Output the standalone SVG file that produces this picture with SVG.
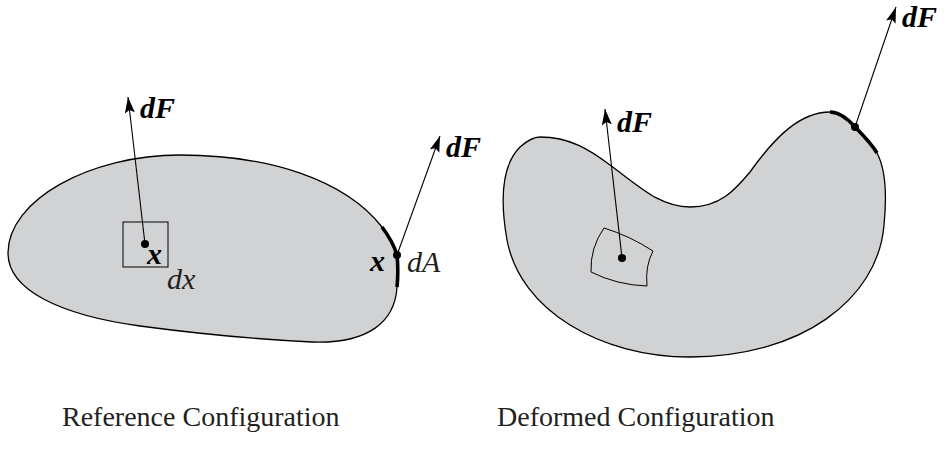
<svg xmlns="http://www.w3.org/2000/svg" width="946" height="463" viewBox="0 0 946 463">
<style>
.body{fill:#d1d2d4;stroke:#000;stroke-width:1.3;stroke-linejoin:round}
.thick{fill:none;stroke:#000;stroke-width:3.6;stroke-linecap:butt}
.vec{fill:none;stroke:#000;stroke-width:1.1}
.el{fill:none;stroke:#000;stroke-width:1}
.bi{font-family:"Liberation Serif","DejaVu Serif",serif;font-weight:bold;font-style:italic;font-size:30px;fill:#000}
.it{font-family:"Liberation Serif","DejaVu Serif",serif;font-style:italic;font-size:30px;fill:#231f20}
.cap{font-family:"Liberation Serif","Times New Roman",serif;font-size:28px;fill:#231f20}
</style>
<defs>
<marker id="ah" viewBox="-17 -6 18 12" refX="0" refY="0" markerWidth="18" markerHeight="12" markerUnits="userSpaceOnUse" orient="auto">
<path d="M0,0 L-16,-5 L-13,0 L-16,5 Z" fill="#000"/>
</marker>
</defs>
<g id="reference-body">
<path class="body" d="M 382,227 C 388,235 394,245 397,255 C 398,265 398,277 397,287 C 395,322 368,344 312,342 C 250,339 200,334 140,326 C 60,315 8,290 8,253 C 8,200 90,155 180,155 C 270,155 345,180 382,227 Z"/>
<path class="thick" d="M 382,227 C 388,235 394,245 397,255 C 398,265 398,277 397,287"/>
</g>
<g id="reference-element">
<rect class="el" x="123" y="222" width="45" height="45"/>
<circle cx="145" cy="244" r="4"/>
<text class="bi" x="147" y="264">x</text>
<text class="it" x="167" y="289">dx</text>
</g>
<g id="reference-surface">
<circle cx="397" cy="255" r="4"/>
<text class="bi" x="370" y="271">x</text>
<text class="it" x="407" y="272">dA</text>
</g>
<g id="deformed-body">
<path class="body" d="M 540,137 C 570,137 590,150 610,165 C 640,187 660,207 690,207 C 720,207 735,190 750,172 C 775,137 800,112 830,112 C 840,112 848,119 855,127 C 863,135 871,143 877,153 C 886,170 887,195 884,225 C 878,300 800,357 690,357 C 600,357 520,310 507,240 C 500,200 502,165 520,147 C 528,140 534,137 540,137 Z"/>
<path class="thick" d="M 830,112 C 840,112 848,119 855,127 C 863,135 871,143 877,153"/>
<circle cx="855" cy="127" r="4"/>
</g>
<g id="deformed-element">
<path class="el" d="M 604,228 Q 630,236 653,251 Q 645,266 647,286 Q 617,285 591,272 Q 590,248 604,228 Z"/>
<circle cx="622" cy="258" r="4"/>
</g>
<g id="connectors">
<line class="vec" x1="145" y1="244" x2="128" y2="97" marker-end="url(#ah)"/>
<line class="vec" x1="397" y1="255" x2="440" y2="136" marker-end="url(#ah)"/>
<line class="vec" x1="622" y1="258" x2="605" y2="109" marker-end="url(#ah)"/>
<line class="vec" x1="855" y1="127" x2="896" y2="7" marker-end="url(#ah)"/>
</g>
<g id="labels">
<text class="bi" x="140" y="118">dF</text>
<text class="bi" x="446" y="157">dF</text>
<text class="bi" x="617" y="132">dF</text>
<text class="bi" x="902" y="27">dF</text>
<text class="cap" x="62" y="426">Reference Configuration</text>
<text class="cap" x="497" y="426">Deformed Configuration</text>
</g>
</svg>
